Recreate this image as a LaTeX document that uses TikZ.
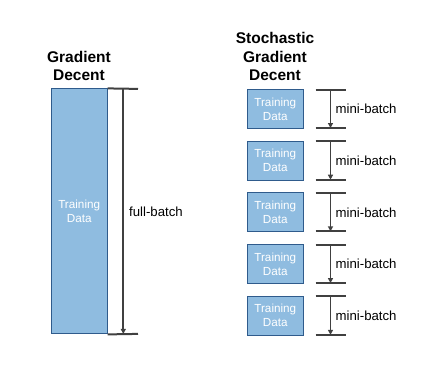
\documentclass[tikz,border=0pt]{standalone}
\usepackage{fontspec}
\setmainfont{Liberation Sans}
\usetikzlibrary{arrows.meta}

\definecolor{datafill}{HTML}{8FBCE0}
\definecolor{dataline}{HTML}{2F5B8C}
\definecolor{rulegray}{HTML}{404040}

\begin{document}
\begin{tikzpicture}[x=1pt,y=-1pt,
  databox/.style={draw=dataline,fill=datafill,line width=1pt,text=white,align=center,
    inner sep=0pt,font=\fontsize{11.7}{14}\selectfont},
  titletext/.style={align=center,font=\bfseries\fontsize{15.5}{18.3}\selectfont},
  batchlabel/.style={anchor=west,inner sep=0pt,font=\fontsize{13.2}{15}\selectfont},
  ruleline/.style={draw=rulegray,line width=2pt},
  batcharrow/.style={draw=rulegray,line width=1.8pt,-{Triangle[length=5pt,width=5pt]}}]
\useasboundingbox (0,0) rectangle (429,372);

% gradient descent: one full batch
\node[titletext] (gdtitle) at (79,66) {Gradient\\Decent};
\node[databox,minimum width=56pt,minimum height=245pt] (gdbox) at (79.2,211.4) {Training\\Data};
\coordinate (fbtop) at (138,88.9);
\coordinate (fbbot) at (138,333.9);
\draw[ruleline] (gdbox.north east) -- (fbtop);
\draw[ruleline] (gdbox.south east) -- (fbbot);
\coordinate (fbstart) at (123.3,88.9);
\coordinate (fbend) at (123.3,333.9);
\draw[batcharrow] (fbstart) -- (fbend);
\node[batchlabel] (fblabel) at (129,212) {full-batch};

% stochastic gradient descent: mini batches
\node[titletext] (sgdtitle) at (275,56.7) {Stochastic\\Gradient\\Decent};
\foreach \i in {0,...,4}{
  \node[databox,minimum width=56pt,minimum height=39pt] (mb\i) at (275.3,109+51.7*\i) {Training\\Data};
  \coordinate (mbtopl\i) at (315.7,89.5+51.7*\i);
  \coordinate (mbtopr\i) at (346,89.5+51.7*\i);
  \coordinate (mbbotl\i) at (315.7,128+51.7*\i);
  \coordinate (mbbotr\i) at (346,128+51.7*\i);
  \coordinate (mbstart\i) at (330.5,89.5+51.7*\i);
  \coordinate (mbend\i) at (330.5,128+51.7*\i);
  \draw[ruleline] (mbtopl\i) -- (mbtopr\i);
  \draw[ruleline] (mbbotl\i) -- (mbbotr\i);
  \draw[batcharrow] (mbstart\i) -- (mbend\i);
  \node[batchlabel] (mblabel\i) at (335.5,109+51.7*\i) {mini-batch};
}
\end{tikzpicture}
\end{document}
